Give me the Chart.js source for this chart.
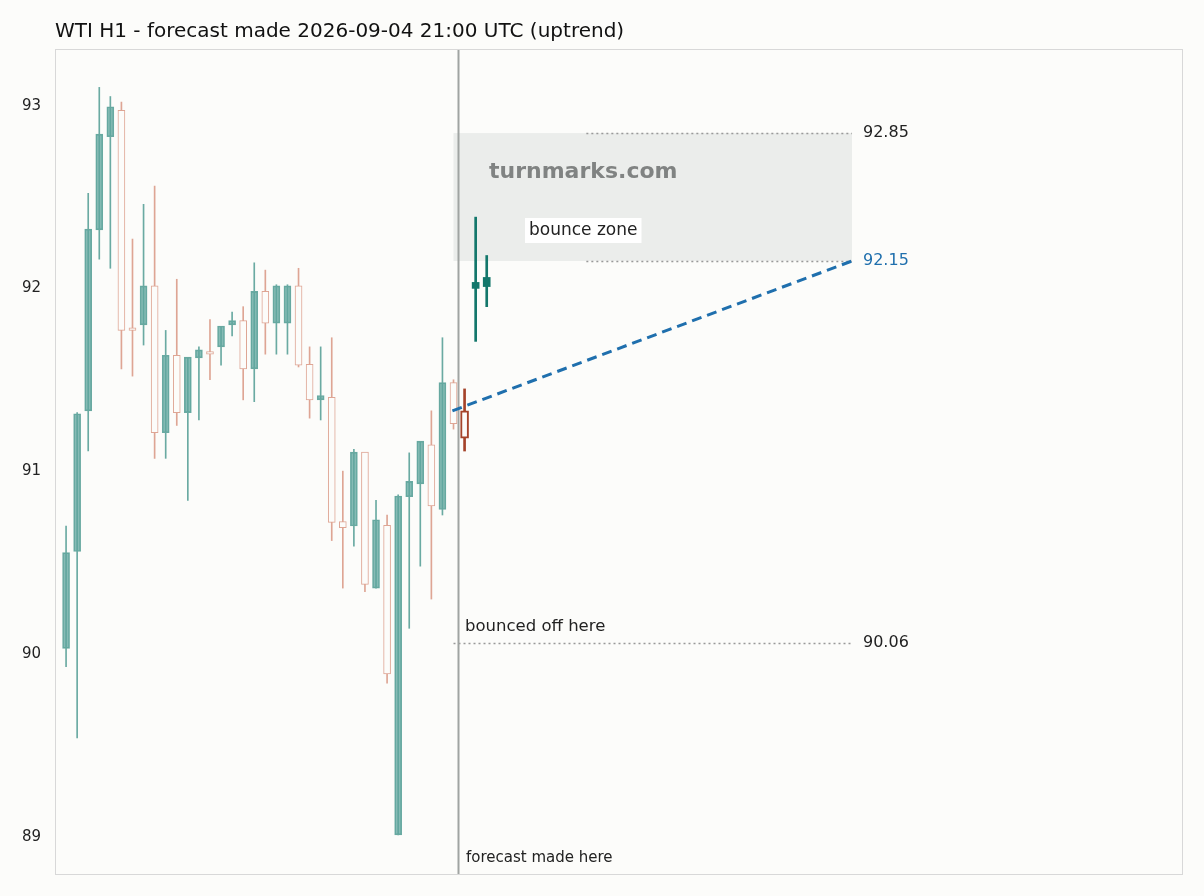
<!DOCTYPE html>
<html><head><meta charset="utf-8">
<script src="https://cdn.jsdelivr.net/npm/chart.js@4"></script>
<style>html,body{margin:0;background:#fcfcfa}#w{width:1204px;height:896px}</style>
</head><body><div id="w"><canvas id="c"></canvas></div>
<script>
const opens  = [90.03,90.56,91.33,92.32,92.83,92.97,91.78,91.80,92.01,91.21,91.63,91.32,91.62,91.65,91.68,91.80,91.82,91.56,91.98,91.81,91.81,92.01,91.58,91.39,91.40,90.72,90.70,91.10,90.36,90.70,89.01,90.86,90.93,91.14,90.79,91.48];
const closes = [90.55,91.31,92.32,92.84,92.99,91.77,91.77,92.01,91.21,91.63,91.32,91.62,91.66,91.64,91.79,91.82,91.56,91.98,91.81,92.01,92.01,91.58,91.39,91.41,90.72,90.69,91.10,90.38,90.73,89.89,90.86,90.94,91.16,90.81,91.48,91.26];
const highs  = [90.70,91.32,92.52,93.10,93.05,93.02,92.27,92.46,92.56,91.77,92.05,91.62,91.68,91.83,91.79,91.87,91.90,92.14,92.10,92.02,92.02,92.11,91.68,91.68,91.73,91.00,91.12,91.10,90.84,90.76,90.87,91.10,91.16,91.33,91.73,91.50];
const lows   = [89.93,89.54,91.11,92.16,92.11,91.56,91.52,91.69,91.07,91.07,91.25,90.84,91.28,91.50,91.58,91.74,91.39,91.38,91.64,91.64,91.64,91.57,91.29,91.28,90.62,90.36,90.59,90.34,90.36,89.84,89.01,90.14,90.48,90.30,90.76,91.23];
const lastCandle = {x:36, o:91.33, c:91.18, h:91.45, l:91.11};
const fcOpens=[92.00,92.01], fcCloses=[92.03,92.06], fcHighs=[92.39,92.18], fcLows=[91.71,91.90], fcX=[37,38];
const forecastLine=[{x:34.9,y:91.33},{x:71,y:92.15}];
const levels={top:92.85,bottom:92.15,bounce:90.06};
const yTicks=[89,90,91,92,93];
const cutX=35.4;

const idx=opens.map((_,i)=>i);
const bull=i=>closes[i]>=opens[i];
const TEAL='rgba(95,165,157,0.75)', TEALB='#6aaaa2', RED='#dea594';
const ds=[];
ds.push({type:'bar',data:idx.map(i=>({x:i,y:[lows[i],highs[i]]})),backgroundColor:idx.map(i=>bull(i)?TEALB:RED),barThickness:1,grouped:false,order:2});
ds.push({type:'bar',data:idx.map(i=>({x:i,y:[Math.min(opens[i],closes[i]),Math.max(opens[i],closes[i])+0.004]})),
  backgroundColor:idx.map(i=>bull(i)?TEAL:'#fcfcfa'),borderColor:idx.map(i=>bull(i)?TEALB:RED),borderWidth:1,borderSkipped:false,barThickness:7,grouped:false,order:1});
ds.push({type:'bar',data:[{x:lastCandle.x,y:[lastCandle.l,lastCandle.h]}],backgroundColor:'#a5432a',barThickness:2,grouped:false,order:2});
ds.push({type:'bar',data:[{x:lastCandle.x,y:[lastCandle.c,lastCandle.o]}],backgroundColor:'#fcfcfa',borderColor:'#a5432a',borderWidth:2,borderSkipped:false,barThickness:8,grouped:false,order:1});
ds.push({type:'bar',data:fcX.map((x,i)=>({x,y:[fcLows[i],fcHighs[i]]})),backgroundColor:'#13776b',barThickness:2,grouped:false,order:2});
ds.push({type:'bar',data:fcX.map((x,i)=>({x,y:[fcOpens[i],fcCloses[i]]})),backgroundColor:'#13776b',barThickness:7,minBarLength:6,grouped:false,order:1});
ds.push({type:'line',data:forecastLine,borderColor:'#1f6fad',borderWidth:3,borderDash:[10,6],pointRadius:0,order:0});

const deco={id:'deco',
 beforeDatasetsDraw(ch){const {ctx,chartArea:a,scales:{x,y}}=ch;ctx.save();
  const x0=x.getPixelForValue(35.5-0.5), x1=x.getPixelForValue(71);
  ctx.fillStyle='#ebedeb';ctx.fillRect(x0,y.getPixelForValue(levels.top),x1-x0,y.getPixelForValue(levels.bottom)-y.getPixelForValue(levels.top));
  ctx.strokeStyle='#999';ctx.lineWidth=1.5;ctx.setLineDash([2,3]);
  const xs=x.getPixelForValue(47);
  [[xs,levels.top],[xs,levels.bottom],[x0,levels.bounce]].forEach(([s,v])=>{const py=Math.round(y.getPixelForValue(v))+0.5;ctx.beginPath();ctx.moveTo(s,py);ctx.lineTo(x1,py);ctx.stroke();});
  ctx.setLineDash([]);
  const cx=Math.round(x.getPixelForValue(cutX))+0.5;ctx.strokeStyle='#a0a4a2';ctx.lineWidth=2;ctx.beginPath();ctx.moveTo(cx,a.top);ctx.lineTo(cx,a.bottom);ctx.stroke();
  ctx.font='bold 22px "DejaVu Sans"';ctx.fillStyle='#808382';ctx.textBaseline='middle';ctx.fillText('turnmarks.com',489,172);
  ctx.restore();},
 afterDraw(ch){const {ctx,chartArea:a,scales:{x,y}}=ch;ctx.save();
  ctx.strokeStyle='#d8d8d8';ctx.lineWidth=1;ctx.strokeRect(a.left+0.5,a.top+0.5,a.width-1,a.height-1);
  ctx.font='16px "DejaVu Sans"';ctx.textBaseline='middle';
  const tx=863;
  ctx.fillStyle='#222';ctx.fillText('92.85',tx,y.getPixelForValue(levels.top));
  ctx.fillStyle='#1f6fad';ctx.fillText('92.15',tx,y.getPixelForValue(levels.bottom));
  ctx.fillStyle='#222';ctx.fillText('90.06',tx,y.getPixelForValue(levels.bounce));
  ctx.font='16.5px "DejaVu Sans"';ctx.fillText('bounced off here',465,627);
  ctx.font='17px "DejaVu Sans"';
  const w=ctx.measureText('bounce zone').width;ctx.fillStyle='#fff';ctx.fillRect(525,218,w+8,25);
  ctx.fillStyle='#222';ctx.fillText('bounce zone',529,231);
  ctx.font='15px "DejaVu Sans"';ctx.fillText('forecast made here',466,858);
  ctx.font='20px "DejaVu Sans"';ctx.fillStyle='#111';ctx.fillText('WTI H1 - forecast made 2026-09-04 21:00 UTC (uptrend)',55,32);
  ctx.restore();}};

new Chart(document.getElementById('c'),{data:{datasets:ds},
 options:{responsive:true,maintainAspectRatio:false,animation:false,
  layout:{padding:{top:49,right:21,bottom:21,left:0}},
  plugins:{legend:{display:false},tooltip:{enabled:false}},
  scales:{x:{type:'linear',min:-1,max:100.9,display:false,offset:false},
   y:{min:88.79,max:93.31,afterFit:s=>{s.width=55},grid:{display:false},border:{display:false},
    afterBuildTicks:s=>{s.ticks=yTicks.map(v=>({value:v}))},
    ticks:{color:'#222',font:{family:'DejaVu Sans',size:15},padding:6}}}},
 plugins:[deco]});
</script></body></html>
